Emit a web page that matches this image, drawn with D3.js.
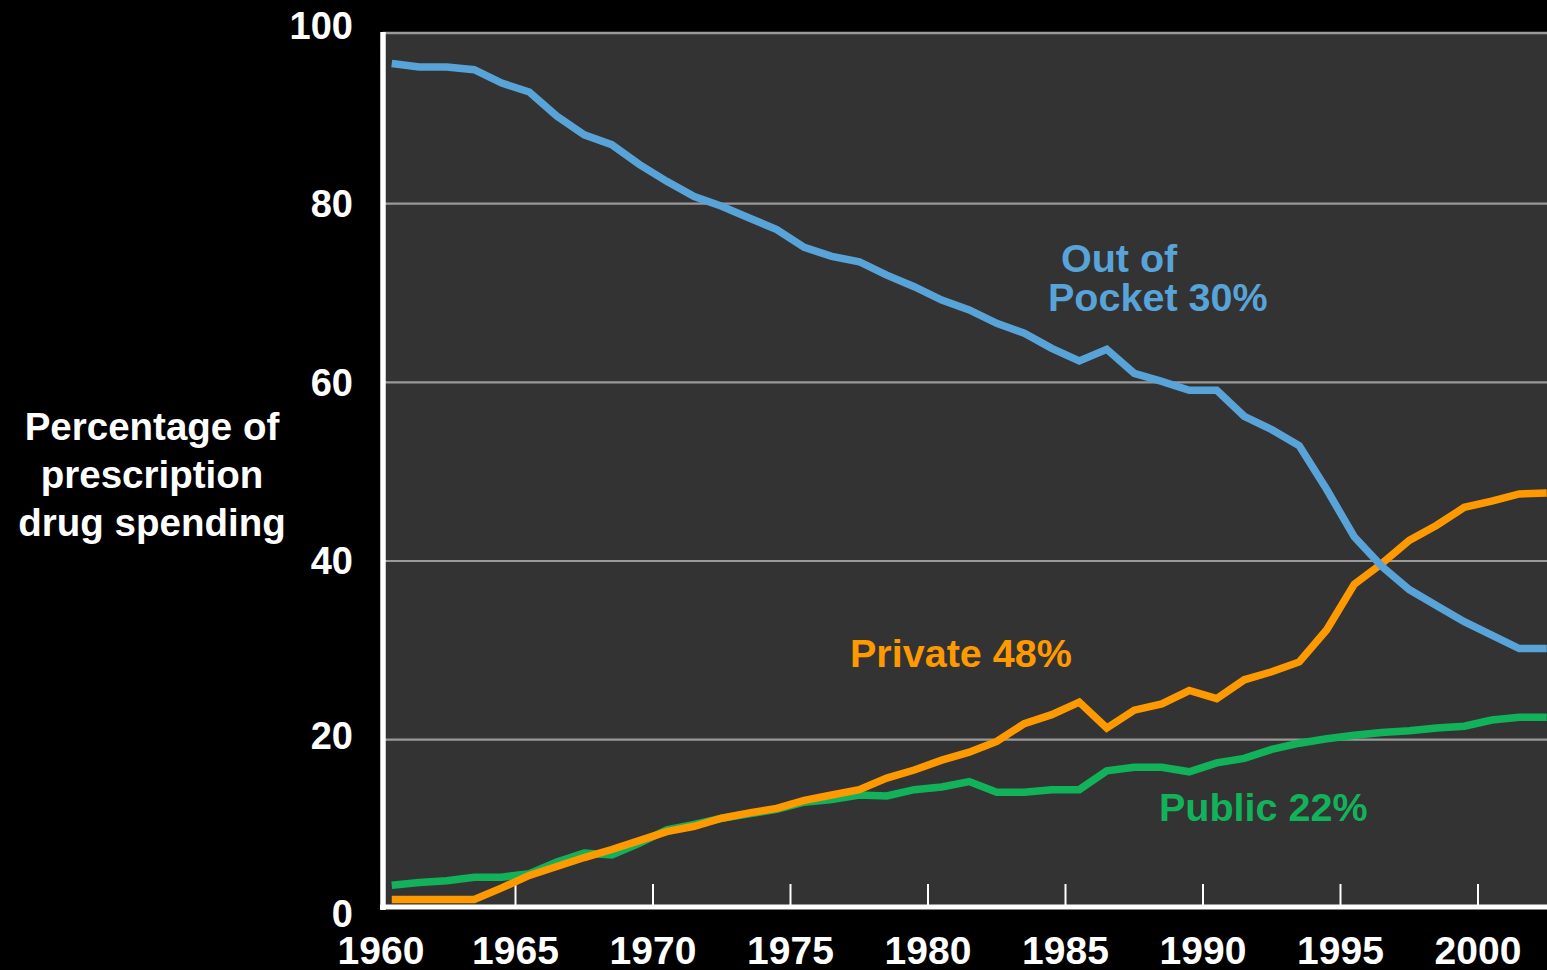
<!DOCTYPE html>
<html>
<head>
<meta charset="utf-8">
<script src="https://cdn.jsdelivr.net/npm/d3@7"></script>
<style>
  html, body { margin: 0; padding: 0; background: #000; }
  svg { display: block; }
  text { font-family: "Liberation Sans", Arial, sans-serif; font-weight: bold; }
</style>
</head>
<body>
<svg id="chart" width="1547" height="970"></svg>
<script>
// ---- data ----
const years = d3.range(1960, 2003);
const tickYears = [1960, 1965, 1970, 1975, 1980, 1985, 1990, 1995, 2000];
const yTicks = [0, 20, 40, 60, 80, 100];
const outOfPocket = [95.7,95.3,95.3,95.0,93.5,92.5,89.8,87.7,86.6,84.4,
                     82.5,80.8,79.7,78.4,77.1,75.1,74.1,73.5,72.0,70.7,
                     69.2,68.1,66.6,65.5,63.8,62.4,63.7,61.0,60.1,59.1,
                     59.1,56.2,54.7,52.9,48.0,42.7,39.4,36.8,35.0,33.2,
                     31.7,30.2,30.2];
const privateIns = [2.1,2.1,2.1,2.1,3.4,4.8,5.8,6.8,7.7,8.7,
                    9.7,10.3,11.2,11.8,12.3,13.2,13.8,14.4,15.7,16.6,
                    17.7,18.6,19.8,21.8,22.8,24.2,21.3,23.3,24.0,25.5,
                    24.6,26.7,27.6,28.7,32.3,37.4,39.7,42.3,44.0,46.0,
                    46.7,47.5,47.6];
const publicIns = [3.7,4.0,4.2,4.6,4.6,5.0,6.3,7.3,7.1,8.4,
                   9.9,10.5,11.2,11.7,12.2,13.0,13.3,13.8,13.7,14.4,
                   14.7,15.3,14.1,14.1,14.4,14.4,16.5,16.9,16.9,16.4,
                   17.4,17.9,18.9,19.6,20.1,20.5,20.8,21.0,21.3,21.5,
                   22.2,22.5,22.5];
const seriesNames = ["Public", "Private", "Out of Pocket"];
const seriesColors = ["#12B25B", "#FF9900", "#58A3D8"];

// ---- layout ----
const svg = d3.select("#chart");
const W = 1547, H = 970;
const plotLeft = 383, plotTop = 32, plotBottom = 907;

const x = d3.scaleBand().domain(years).range([378, 378 + years.length * 27.5]).padding(0);
const xc = d => x(d) + x.bandwidth() / 2;
const y = d3.scaleLinear().domain([0, 100]).range([918.3, 25]);

svg.append("rect").attr("x", 0).attr("y", 0).attr("width", W).attr("height", H).attr("fill", "#000");

// plot area
svg.append("rect")
  .attr("x", plotLeft).attr("y", plotTop)
  .attr("width", W - plotLeft).attr("height", plotBottom - plotTop)
  .attr("fill", "#333333");

// top border
svg.append("line")
  .attr("x1", plotLeft).attr("x2", W).attr("y1", 33).attr("y2", 33)
  .attr("stroke", "#9a9a9a").attr("stroke-width", 2.5);

// gridlines
svg.append("g").selectAll("line")
  .data(yTicks.filter(v => v > 0 && v < 100))
  .join("line")
  .attr("x1", plotLeft).attr("x2", W)
  .attr("y1", d => y(d)).attr("y2", d => y(d))
  .attr("stroke", "#9a9a9a").attr("stroke-width", 2.2);

// x tick marks
svg.append("g").selectAll("line")
  .data(tickYears.filter(t => t > 1960))
  .join("line")
  .attr("x1", d => x(d)).attr("x2", d => x(d))
  .attr("y1", 884).attr("y2", plotBottom)
  .attr("stroke", "#ffffff").attr("stroke-width", 2);

// lines
svg.append("clipPath").attr("id", "plotclip")
  .append("rect").attr("x", plotLeft).attr("y", plotTop).attr("width", W - plotLeft).attr("height", plotBottom - plotTop);

const seriesData = [publicIns, privateIns, outOfPocket];
const lineGen = d3.line().x((d, i) => xc(years[i])).y(d => y(d));
svg.append("g").attr("clip-path", "url(#plotclip)")
  .selectAll("path")
  .data([0, 1, 2])
  .join("path")
  .attr("d", i => lineGen(seriesData[i]))
  .attr("fill", "none")
  .attr("stroke", i => seriesColors[i])
  .attr("stroke-width", 7.5)
  .attr("stroke-linejoin", "miter");

// axes lines
svg.append("line")
  .attr("x1", 383).attr("x2", 383).attr("y1", plotTop).attr("y2", 910)
  .attr("stroke", "#fff").attr("stroke-width", 5.5);
svg.append("line")
  .attr("x1", 380).attr("x2", W).attr("y1", plotBottom).attr("y2", plotBottom)
  .attr("stroke", "#fff").attr("stroke-width", 5);

// y tick labels
svg.append("g").selectAll("text")
  .data(yTicks)
  .join("text")
  .attr("x", 353)
  .attr("y", d => y(d) + 13.5 - (d === 0 ? 5 : d === 20 ? 4 : 0))
  .attr("text-anchor", "end")
  .attr("fill", "#fff")
  .attr("font-size", 38)
  .text(d => d);

// x tick labels
svg.append("g").selectAll("text")
  .data(tickYears)
  .join("text")
  .attr("x", d => x(d) + (d === 1960 ? 3 : 0))
  .attr("y", 964)
  .attr("text-anchor", "middle")
  .attr("fill", "#fff")
  .attr("font-size", 39)
  .text(d => d);

// y axis title
const yTitle = ["Percentage of", "prescription", "drug spending"];
svg.append("g").selectAll("text")
  .data(yTitle)
  .join("text")
  .attr("x", 152)
  .attr("y", (d, i) => 440 + i * 48)
  .attr("text-anchor", "middle")
  .attr("fill", "#fff")
  .attr("font-size", 38.5)
  .text(d => d);

// series labels
const labels = [
  { text: "Out of", x: 1061, y: 272, c: seriesColors[2] },
  { text: "Pocket 30%", x: 1048, y: 311, c: seriesColors[2] },
  { text: "Private 48%", x: 850, y: 667, c: seriesColors[1] },
  { text: "Public 22%", x: 1159, y: 821, c: seriesColors[0] }
];
svg.append("g").selectAll("text")
  .data(labels)
  .join("text")
  .attr("x", d => d.x).attr("y", d => d.y)
  .attr("fill", d => d.c)
  .attr("font-size", 39.5)
  .text(d => d.text);
</script>
</body>
</html>
